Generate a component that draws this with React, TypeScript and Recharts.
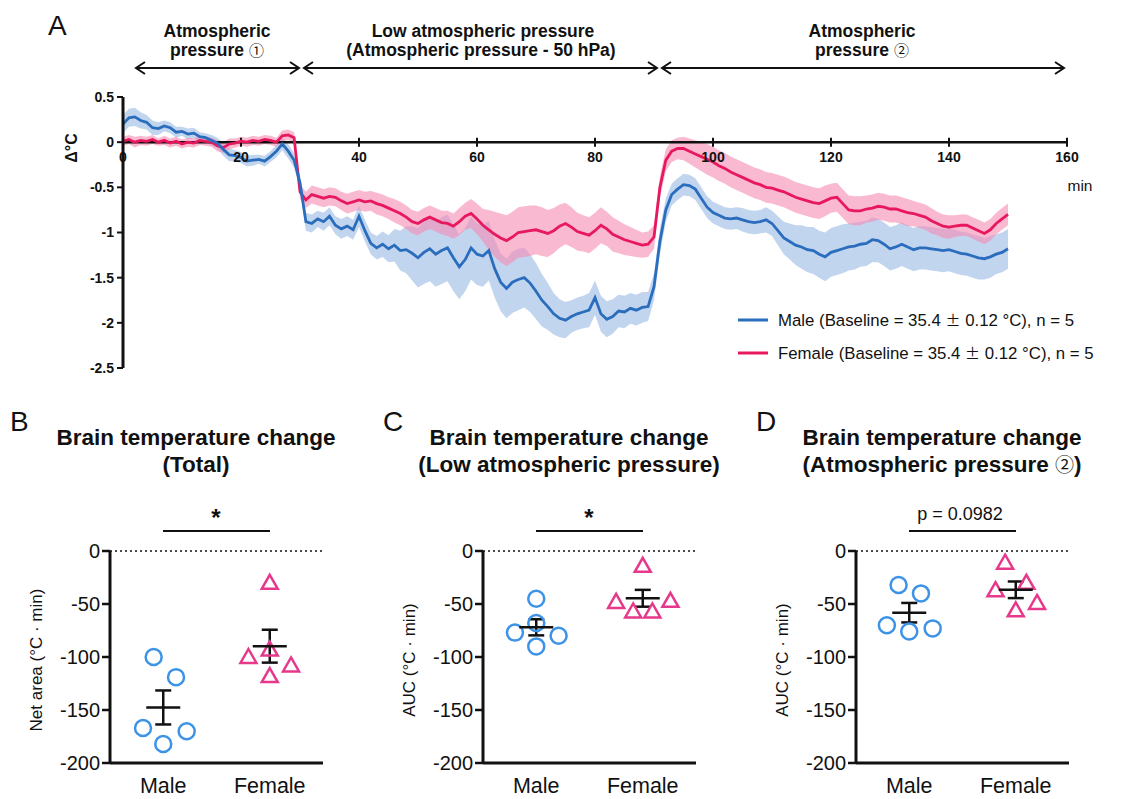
import React from "react"
import {
  ComposedChart,
  Area,
  Line,
  XAxis,
  YAxis,
  ReferenceLine,
  ReferenceDot,
  ScatterChart,
  Scatter,
  ErrorBar,
} from "recharts"

const FONT = '"Liberation Sans", Arial, Helvetica, sans-serif'
const CJK = '"Noto Sans CJK JP", "DejaVu Sans", sans-serif'
const INK = "#111"
const BLUE = "#2a6dbd"
const PINK = "#e8185e"
const BLUE_BAND = "#8fb2e2"
const PINK_BAND = "#f58ab2"
const DOT_BLUE = "#3d93e6"
const DOT_PINK = "#e6398c"

// A: change of brain temperature (°C) sampled every minute, 0–150 min
const maleMean = [
  0.2, 0.27, 0.28, 0.24, 0.22, 0.16, 0.15, 0.18, 0.16, 0.11,
  0.12, 0.09, 0.1, 0.06, 0.05, 0.02, -0.01, -0.08, -0.14, -0.15,
  -0.17, -0.21, -0.2, -0.19, -0.21, -0.16, -0.1, -0.02, -0.1, -0.2,
  -0.45, -0.88, -0.9, -0.85, -0.88, -0.82, -0.92, -0.96, -0.93, -0.97,
  -0.82, -0.98, -1.12, -1.17, -1.13, -1.18, -1.14, -1.2, -1.19, -1.23,
  -1.28, -1.22, -1.18, -1.24, -1.2, -1.17, -1.28, -1.38, -1.3, -1.17,
  -1.24, -1.26, -1.2, -1.4, -1.55, -1.62, -1.55, -1.52, -1.5, -1.56,
  -1.65, -1.75, -1.82, -1.9, -1.95, -1.97, -1.93, -1.9, -1.88, -1.86,
  -1.72, -1.9, -1.96, -1.93, -1.87, -1.88, -1.84, -1.86, -1.83, -1.82,
  -1.6, -1.1, -0.75, -0.58, -0.52, -0.47, -0.48, -0.52, -0.62, -0.72,
  -0.78, -0.81, -0.84, -0.85, -0.84, -0.86, -0.88, -0.89, -0.88, -0.86,
  -0.9, -0.98, -1.06, -1.1, -1.14, -1.16, -1.19, -1.2, -1.24, -1.27,
  -1.22, -1.2, -1.18, -1.16, -1.15, -1.13, -1.12, -1.08, -1.09, -1.13,
  -1.18, -1.16, -1.13, -1.16, -1.19, -1.17, -1.17, -1.18, -1.19, -1.2,
  -1.19, -1.21, -1.23, -1.24, -1.26, -1.28, -1.29, -1.27, -1.24, -1.22,
  -1.18,
]
const maleSem = [
  0.1, 0.1, 0.1, 0.09, 0.08, 0.08, 0.07, 0.06, 0.06, 0.06,
  0.05, 0.06, 0.06, 0.05, 0.05, 0.06, 0.06, 0.07, 0.07, 0.06,
  0.06, 0.06, 0.06, 0.05, 0.06, 0.06, 0.07, 0.07, 0.08, 0.08,
  0.08, 0.1, 0.1, 0.09, 0.1, 0.1, 0.1, 0.11, 0.11, 0.11,
  0.12, 0.12, 0.12, 0.13, 0.14, 0.15, 0.18, 0.22, 0.26, 0.3,
  0.33, 0.35, 0.36, 0.36, 0.37, 0.37, 0.37, 0.36, 0.35, 0.35,
  0.34, 0.34, 0.33, 0.32, 0.32, 0.33, 0.34, 0.34, 0.33, 0.32,
  0.31, 0.29, 0.26, 0.23, 0.21, 0.2, 0.18, 0.18, 0.18, 0.19,
  0.19, 0.2, 0.2, 0.19, 0.18, 0.18, 0.17, 0.17, 0.17, 0.16,
  0.15, 0.14, 0.13, 0.12, 0.12, 0.12, 0.12, 0.12, 0.12, 0.12,
  0.12, 0.12, 0.12, 0.12, 0.12, 0.13, 0.13, 0.13, 0.13, 0.14,
  0.14, 0.16, 0.18, 0.2, 0.22, 0.24, 0.25, 0.26, 0.26, 0.27,
  0.27, 0.27, 0.27, 0.26, 0.26, 0.25, 0.25, 0.25, 0.24, 0.24,
  0.24, 0.24, 0.24, 0.24, 0.24, 0.24, 0.24, 0.24, 0.24, 0.24,
  0.24, 0.24, 0.24, 0.24, 0.24, 0.24, 0.23, 0.23, 0.22, 0.22,
  0.22,
]
const femaleMean = [
  0.01, 0.03, 0.0, 0.02, 0.01, 0.03, 0.0, 0.02, -0.01, 0.01,
  -0.02, 0.0, -0.01, 0.02, 0.01, 0.0, -0.04, -0.06, -0.02, -0.01,
  0.01, 0.0, 0.02, 0.01, 0.03, 0.02, 0.0, 0.07, 0.08, 0.05,
  -0.55, -0.64, -0.58, -0.6, -0.62, -0.6, -0.61, -0.65, -0.68, -0.66,
  -0.64, -0.66, -0.65, -0.68, -0.7, -0.73, -0.76, -0.79, -0.83, -0.88,
  -0.9, -0.86, -0.83, -0.86, -0.89, -0.9, -0.93, -0.88, -0.82, -0.79,
  -0.85, -0.92, -0.97, -1.02, -1.06, -1.09, -1.05, -1.0, -0.99, -0.98,
  -0.97, -0.99, -1.01, -0.98, -0.93, -0.9, -0.94, -0.99, -1.01, -1.03,
  -0.98, -0.92, -0.96, -1.02, -1.05, -1.08, -1.1, -1.12, -1.14, -1.13,
  -1.05, -0.5, -0.2, -0.1, -0.07, -0.07, -0.1, -0.13, -0.16, -0.19,
  -0.22, -0.26, -0.29, -0.33, -0.36, -0.39, -0.42, -0.45, -0.47, -0.5,
  -0.51, -0.53, -0.55, -0.58, -0.61, -0.63, -0.65, -0.67, -0.68, -0.65,
  -0.62, -0.61, -0.68, -0.75, -0.76, -0.76, -0.74, -0.73, -0.71, -0.72,
  -0.74, -0.74, -0.76, -0.78, -0.79, -0.81, -0.83, -0.87, -0.9, -0.93,
  -0.94, -0.93, -0.92, -0.92, -0.95, -0.98, -1.01, -0.97, -0.9, -0.85,
  -0.8,
]
const femaleSem = [
  0.05, 0.05, 0.06, 0.05, 0.05, 0.05, 0.04, 0.05, 0.05, 0.05,
  0.05, 0.05, 0.05, 0.05, 0.05, 0.05, 0.06, 0.06, 0.06, 0.05,
  0.05, 0.05, 0.05, 0.05, 0.05, 0.05, 0.05, 0.06, 0.06, 0.06,
  0.08, 0.09, 0.1, 0.1, 0.1, 0.1, 0.1, 0.1, 0.11, 0.11,
  0.11, 0.11, 0.11, 0.12, 0.12, 0.12, 0.13, 0.13, 0.13, 0.13,
  0.13, 0.13, 0.13, 0.13, 0.13, 0.14, 0.14, 0.15, 0.15, 0.16,
  0.17, 0.18, 0.22, 0.25, 0.27, 0.28, 0.28, 0.28, 0.28, 0.28,
  0.27, 0.27, 0.26, 0.25, 0.24, 0.23, 0.22, 0.21, 0.2, 0.2,
  0.2, 0.2, 0.19, 0.19, 0.18, 0.17, 0.16, 0.15, 0.14, 0.14,
  0.13, 0.12, 0.12, 0.12, 0.12, 0.13, 0.14, 0.15, 0.16, 0.17,
  0.17, 0.17, 0.17, 0.17, 0.17, 0.17, 0.17, 0.17, 0.17, 0.17,
  0.17, 0.17, 0.17, 0.17, 0.17, 0.17, 0.17, 0.17, 0.17, 0.17,
  0.16, 0.16, 0.16, 0.16, 0.16, 0.16, 0.15, 0.15, 0.15, 0.15,
  0.15, 0.15, 0.15, 0.15, 0.14, 0.14, 0.14, 0.14, 0.13, 0.13,
  0.13, 0.12, 0.12, 0.12, 0.12, 0.12, 0.12, 0.12, 0.12, 0.12,
  0.12,
]
const timeTicks = [0, 20, 40, 60, 80, 100, 120, 140, 160]
const tempTicks = [0.5, 0, -0.5, -1, -1.5, -2, -2.5]

// B–D: per-animal values (°C·min); jitter = horizontal spread of the dots
const totalMale = [-100, -119, -167, -170, -182]
const totalMaleJitter = [-0.09, 0.12, -0.19, 0.22, 0]
const totalFemale = [-30, -93, -100, -108, -118]
const totalFemaleJitter = [0, 0, -0.2, 0.2, 0]

const lowMale = [-45, -68, -77, -80, -90]
const lowMaleJitter = [0, 0, -0.2, 0.21, 0]
const lowFemale = [-14, -48, -47, -57, -57]
const lowFemaleJitter = [0, -0.25, 0.26, -0.09, 0.09]

const recMale = [-32, -40, -70, -73, -76]
const recMaleJitter = [-0.1, 0.11, -0.21, 0.22, 0]
const recFemale = [-11, -30, -37, -49, -56]
const recFemaleJitter = [-0.1, 0.1, -0.19, 0.2, 0]

const groupTicks = [1, 2]
const groupNames = ["Male", "Female"]
const aucTicks = [0, -50, -100, -150, -200]

const rowsA = maleMean.map((m, i) => ({
  t: i,
  male: m,
  female: femaleMean[i],
  maleBand: [m - maleSem[i], m + maleSem[i]],
  femaleBand: [femaleMean[i] - femaleSem[i], femaleMean[i] + femaleSem[i]],
}))

const mean = (v: number[]) => v.reduce((a, b) => a + b, 0) / v.length
const sem = (v: number[]) => {
  const m = mean(v)
  const sd = Math.sqrt(v.reduce((a, b) => a + (b - m) ** 2, 0) / (v.length - 1))
  return sd / Math.sqrt(v.length)
}

function Arrow({ x1, x2, y }: { x1: number; x2: number; y: number }) {
  return (
    <g stroke={INK} strokeWidth={2} fill="none">
      <line x1={x1} x2={x2} y1={y} y2={y} />
      <polyline points={`${x1 + 9},${y - 6} ${x1},${y} ${x1 + 9},${y + 6}`} />
      <polyline points={`${x2 - 9},${y - 6} ${x2},${y} ${x2 - 9},${y + 6}`} />
    </g>
  )
}

// circled digits drawn in a lighter CJK face, like the original figure
const Circled = ({ ch, size }: { ch: string; size: number }) => (
  <tspan fontFamily={CJK} fontWeight={400} fontSize={size}>{ch}</tspan>
)

function Baseline({ label, y, color }: { label: string; y: number; color: string }) {
  return (
    <g>
      <line x1={738} x2={768} y1={y} y2={y} stroke={color} strokeWidth={3} />
      <text x={778} y={y + 6} fontFamily={FONT} fontSize={16.8} fill={INK}>
        {label} (Baseline = 35.4 <tspan fontFamily={CJK} fontSize={15}>±</tspan> 0.12 °C), n = 5
      </text>
    </g>
  )
}

function PanelA() {
  const hdr = { fontFamily: FONT, fontSize: 17.5, fontWeight: 700, fill: INK, textAnchor: "middle" as const }
  return (
    <div style={{ position: "absolute", left: 0, top: 0, width: 1123, height: 400 }}>
      <ComposedChart width={1123} height={400} data={rowsA} margin={{ top: 97, right: 56, bottom: 32, left: 83 }}>
        <XAxis type="number" dataKey="t" domain={[0, 160]} hide />
        <YAxis
          type="number"
          domain={[-2.5, 0.5]}
          ticks={tempTicks}
          interval={0}
          width={40}
          axisLine={{ stroke: INK, strokeWidth: 3 }}
          tickLine={{ stroke: INK, strokeWidth: 2 }}
          tickSize={6}
          tickMargin={3}
          tick={{ fill: INK, fontSize: 14, fontWeight: 700, fontFamily: FONT }}
        />
        <Area dataKey="maleBand" type="linear" stroke="none" fill={BLUE_BAND} fillOpacity={0.55} isAnimationActive={false} />
        <Area dataKey="femaleBand" type="linear" stroke="none" fill={PINK_BAND} fillOpacity={0.6} isAnimationActive={false} />
        <ReferenceLine y={0} stroke={INK} strokeWidth={2.5} />
        {timeTicks.map((t) => (
          <ReferenceLine key={"tk" + t} segment={[{ x: t, y: 0.05 }, { x: t, y: -0.05 }]} stroke={INK} strokeWidth={2} />
        ))}
        {timeTicks.map((t) => (
          <ReferenceDot
            key={"lb" + t}
            x={t}
            y={0}
            r={0}
            fill="none"
            stroke="none"
            label={{ value: String(t), position: "bottom", offset: 10, fill: INK, fontSize: 14, fontWeight: 700, fontFamily: FONT }}
          />
        ))}
        <Line dataKey="female" type="linear" stroke={PINK} strokeWidth={2.8} dot={false} isAnimationActive={false} />
        <Line dataKey="male" type="linear" stroke={BLUE} strokeWidth={2.8} dot={false} isAnimationActive={false} />
      </ComposedChart>
      <svg width={1123} height={400} style={{ position: "absolute", left: 0, top: 0, pointerEvents: "none" }}>
        <text x={48} y={35} fontFamily={FONT} fontSize={28} fill={INK}>A</text>
        <text x={217} y={37} {...hdr}>Atmospheric</text>
        <text x={217} y={56} {...hdr}>pressure <Circled ch="①" size={15} /></text>
        <text x={483} y={37} {...hdr}>Low atmospheric pressure</text>
        <text x={481} y={56} {...hdr}>(Atmospheric pressure - 50 hPa)</text>
        <text x={862} y={37} {...hdr}>Atmospheric</text>
        <text x={862} y={56} {...hdr}>pressure <Circled ch="②" size={15} /></text>
        <Arrow x1={136} x2={299} y={68} />
        <Arrow x1={304} x2={657} y={68} />
        <Arrow x1={662} x2={1064} y={68} />
        <text transform="translate(77,148) rotate(-90)" textAnchor="middle" fontFamily={FONT} fontSize={16} fontWeight={700} fill={INK}>
          Δ°C
        </text>
        <text x={1080} y={191} textAnchor="middle" fontFamily={FONT} fontSize={15.5} fill={INK}>min</text>
        <Baseline label="Male" y={320} color={BLUE} />
        <Baseline label="Female" y={353} color={PINK} />
      </svg>
    </div>
  )
}

const CircleDot = (p: any) => <circle cx={p.cx} cy={p.cy} r={8} fill="none" stroke={DOT_BLUE} strokeWidth={2.5} />
const TriDot = (p: any) => (
  <polygon
    points={`${p.cx},${p.cy - 8} ${p.cx + 8},${p.cy + 6} ${p.cx - 8},${p.cy + 6}`}
    fill="none"
    stroke={DOT_PINK}
    strokeWidth={2.5}
  />
)
const MeanTick = (p: any) => <line x1={p.cx - 17} x2={p.cx + 17} y1={p.cy} y2={p.cy} stroke={INK} strokeWidth={2.5} />

interface DotPanelProps {
  left: number
  letter: string
  title: React.ReactNode[]
  yLabel: string
  sig: string
  male: number[]
  maleJitter: number[]
  female: number[]
  femaleJitter: number[]
}

function DotPanel({ left, letter, title, yLabel, sig, male, maleJitter, female, femaleJitter }: DotPanelProps) {
  const maleDots = male.map((v, i) => ({ x: 1 + maleJitter[i], y: v }))
  const femaleDots = female.map((v, i) => ({ x: 2 + femaleJitter[i], y: v }))
  const stats = [
    { x: 1, y: mean(male), err: sem(male) },
    { x: 2, y: mean(female), err: sem(female) },
  ]
  const isStar = sig === "*"
  return (
    <div style={{ position: "absolute", left, top: 400, width: 373, height: 399 }}>
      <svg width={373} height={399} style={{ position: "absolute", left: 0, top: 0 }}>
        <text x={10} y={31} fontFamily={FONT} fontSize={28} fill={INK}>{letter}</text>
        {title.map((s, i) => (
          <text key={i} x={196} y={45 + i * 27} textAnchor="middle" fontFamily={FONT} fontSize={22.5} fontWeight={700} fill={INK}>
            {s}
          </text>
        ))}
        <text
          x={isStar ? 216 : 214}
          y={isStar ? 126 : 120}
          textAnchor="middle"
          fontFamily={FONT}
          fontSize={isStar ? 24 : 18}
          fontWeight={isStar ? 700 : 400}
          fill={INK}
        >
          {sig}
        </text>
        <line x1={163} x2={270} y1={131} y2={131} stroke={INK} strokeWidth={2} />
        <text transform="translate(42,260) rotate(-90)" textAnchor="middle" fontFamily={FONT} fontSize={17} fill={INK}>
          {yLabel}
        </text>
      </svg>
      <div style={{ position: "absolute", left: 0, top: 100 }}>
        <ScatterChart width={340} height={299} margin={{ top: 51, right: 17, bottom: 0, left: 50 }}>
          <XAxis
            type="number"
            dataKey="x"
            domain={[0.5, 2.5]}
            ticks={groupTicks}
            interval={0}
            tickFormatter={(v: number) => groupNames[v - 1]}
            height={36}
            axisLine={{ stroke: INK, strokeWidth: 3 }}
            tickLine={false}
            tickMargin={9}
            tick={{ fill: INK, fontSize: 21.5, fontFamily: FONT }}
          />
          <YAxis
            type="number"
            dataKey="y"
            domain={[-200, 0]}
            ticks={aucTicks}
            interval={0}
            width={60}
            axisLine={{ stroke: INK, strokeWidth: 3 }}
            tickLine={{ stroke: INK, strokeWidth: 2.5 }}
            tickSize={8}
            tickMargin={2}
            tick={{ fill: INK, fontSize: 20, fontFamily: FONT }}
          />
          <ReferenceLine y={0} stroke={INK} strokeWidth={1.5} strokeDasharray="2 3" />
          <Scatter data={maleDots} shape={CircleDot} isAnimationActive={false} />
          <Scatter data={femaleDots} shape={TriDot} isAnimationActive={false} />
          <Scatter data={stats} shape={MeanTick} isAnimationActive={false}>
            <ErrorBar dataKey="err" direction="y" width={8} stroke={INK} strokeWidth={2.5} />
          </Scatter>
        </ScatterChart>
      </div>
    </div>
  )
}

export default function App() {
  return (
    <div style={{ position: "absolute", left: 0, top: 0, width: 1123, height: 799, background: "#fff" }}>
      <PanelA />
      <DotPanel
        left={0}
        letter="B"
        title={["Brain temperature change", "(Total)"]}
        yLabel="Net area (°C · min)"
        sig="*"
        male={totalMale}
        maleJitter={totalMaleJitter}
        female={totalFemale}
        femaleJitter={totalFemaleJitter}
      />
      <DotPanel
        left={373}
        letter="C"
        title={["Brain temperature change", "(Low atmospheric pressure)"]}
        yLabel="AUC (°C · min)"
        sig="*"
        male={lowMale}
        maleJitter={lowMaleJitter}
        female={lowFemale}
        femaleJitter={lowFemaleJitter}
      />
      <DotPanel
        left={746}
        letter="D"
        title={["Brain temperature change", <>(Atmospheric pressure <Circled ch="②" size={19} />)</>]}
        yLabel="AUC (°C · min)"
        sig="p = 0.0982"
        male={recMale}
        maleJitter={recMaleJitter}
        female={recFemale}
        femaleJitter={recFemaleJitter}
      />
    </div>
  )
}
